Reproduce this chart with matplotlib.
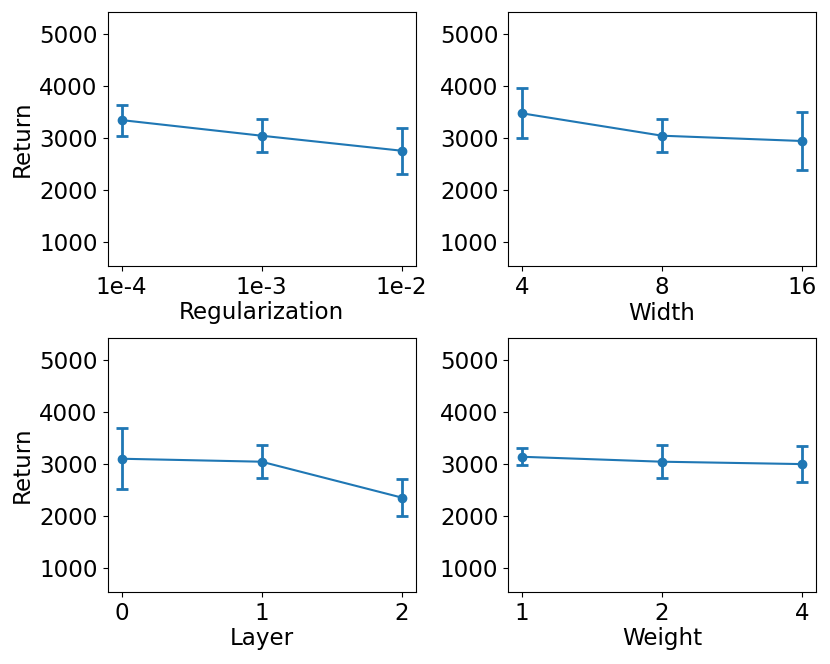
import matplotlib
matplotlib.use("Agg")
import matplotlib.pyplot as plt

reg_labels = ["1e-4", "1e-3", "1e-2"]
reg_mean = [3343, 3042, 2753]
reg_err = [300, 318, 447]

width_labels = ["4", "8", "16"]
width_mean = [3473, 3042, 2940]
width_err = [479, 318, 562]

layer_labels = ["0", "1", "2"]
layer_mean = [3099, 3042, 2352]
layer_err = [587, 318, 365]

weight_labels = ["1", "2", "4"]
weight_mean = [3137, 3042, 2996]
weight_err = [164, 318, 342]

panels = [
    (reg_labels, reg_mean, reg_err, "Regularization", True),
    (width_labels, width_mean, width_err, "Width", False),
    (layer_labels, layer_mean, layer_err, "Layer", True),
    (weight_labels, weight_mean, weight_err, "Weight", False),
]

plt.rcParams['font.family'] = ['DejaVu Sans']
fs = 16.6
fig = plt.figure(figsize=(8.3, 6.64), dpi=100)
W, H = 830, 664
lefts = [107.5, 508]
tops = [12, 338]
aw, ah = 308, 254

for i, (labels, mean, err, xlabel, show_ylabel) in enumerate(panels):
    r, c = divmod(i, 2)
    ax = fig.add_axes([lefts[c] / W, 1 - (tops[r] + ah) / H, aw / W, ah / H])
    x = list(range(len(labels)))
    ax.errorbar(x, mean, yerr=err, color="#1f77b4", marker="o", markersize=6,
                linewidth=1.5, elinewidth=2, capsize=4, capthick=2)
    ax.set_xticks(x)
    ax.set_xticklabels(labels)
    ax.set_ylim(532, 5425)
    ax.set_yticks([1000, 2000, 3000, 4000, 5000])
    ax.tick_params(labelsize=fs)
    ax.set_xlabel(xlabel, fontsize=fs, labelpad=2)
    if show_ylabel:
        ax.set_ylabel("Return", fontsize=fs)

fig.savefig("out.png", dpi=100)
